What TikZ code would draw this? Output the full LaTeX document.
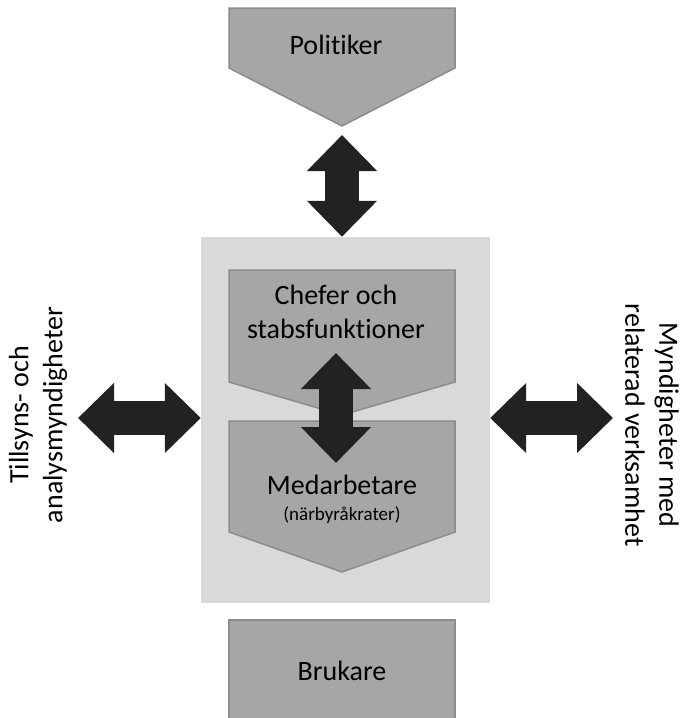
\documentclass[tikz,border=0pt]{standalone}
\usepackage{fontspec}
\setmainfont{Carlito}[Ligatures=NoCommon]
\usetikzlibrary{arrows.meta}
\definecolor{boxgray}{HTML}{A6A6A6}
\definecolor{boxline}{HTML}{8C8C8C}
\definecolor{bggray}{HTML}{D9D9D9}
\definecolor{arrowdark}{HTML}{222222}
\tikzset{
  pentbox/.style={fill=boxgray, draw=boxline, line width=1.5pt},
  boxtext/.style={font=\fontsize{28}{34}\selectfont, align=center, inner sep=0pt},
  smalltext/.style={font=\fontsize{19}{23}\selectfont, inner sep=0pt},
  fat/.style={draw=arrowdark, line width=34pt,
    {Triangle[length=36pt,width=68pt]}-{Triangle[length=36pt,width=68pt]}},
}
\begin{document}
\begin{tikzpicture}[x=1pt,y=-1pt]
        \useasboundingbox (0,0) rectangle (682,718);
        \clip (0,0) rectangle (682,718);

        % grey field round the organisation
        \node[fill=bggray, minimum width=289pt, minimum height=366pt, inner sep=0pt] (bg) at (345.5,420) {};

        \draw[pentbox] (229,8) -- (455,8) -- (455,68) -- (342,126) -- (229,68) -- cycle;
        \draw[pentbox] (229,270) -- (455,270) -- (455,382) -- (342,415) -- (229,382) -- cycle;
        \draw[pentbox] (229,421) -- (455,421) -- (455,532) -- (342,572) -- (229,532) -- cycle;
        \draw[pentbox] (229,620) rectangle (455,740);

        \node[boxtext, anchor=base] (politiker) at (336,54) {Politiker};
        \node[boxtext, anchor=base] (chefer) at (336,338) {Chefer och\\stabsfunktioner};
        \node[boxtext, anchor=base] (medarb) at (342,494) {Medarbetare};
        \node[smalltext, anchor=base] (narbyr) at (342,520) {(närbyråkrater)};
        \node[boxtext, anchor=base] (brukare) at (342,680) {Brukare};

        \node[boxtext, rotate=90] (tillsyn) at (38,415) {Tillsyns- och\\analysmyndigheter};
        \node[boxtext, rotate=-90] (myndig) at (652,425) {Myndigheter med\\relaterad verksamhet};

        \coordinate (poltip) at (342,126);
        \coordinate (up) at (336,353);
        \coordinate (down) at (336,463);
        \coordinate (lefttip) at (78,418);
        \coordinate (righttip) at (613,418);

        \draw[fat] ([yshift=-9pt]poltip) -- (bg.north -| poltip);
        \draw[fat] (up) -- (down);
        \draw[fat] (lefttip) -- (lefttip -| bg.west);
        \draw[fat] (lefttip -| bg.east) -- (righttip);
\end{tikzpicture}
\end{document}
